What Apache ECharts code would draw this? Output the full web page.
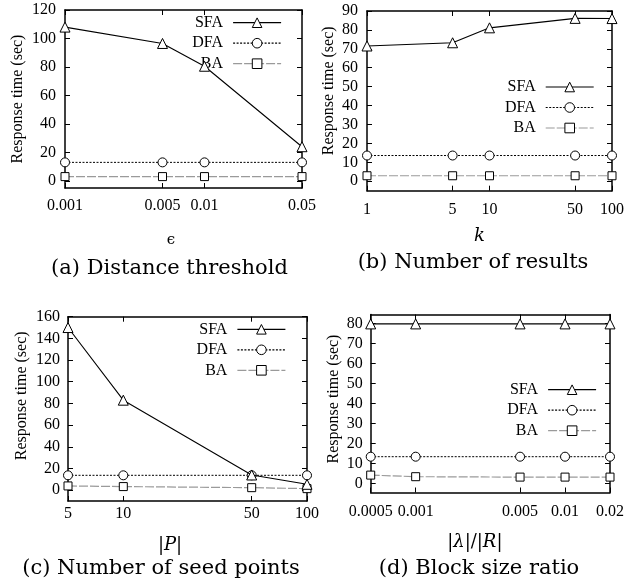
<!DOCTYPE html>
<html><head><meta charset="utf-8">
<script src="https://cdn.jsdelivr.net/npm/echarts@6/dist/echarts.min.js"></script>
<style>html,body{margin:0;padding:0;background:#fff}#c{width:627px;height:587px}</style>
</head><body><div id="c"></div>
<script>
// ---- data ----
const epsValues = [0.001, 0.005, 0.01, 0.05];
const epsTickLabels = ['0.001', '0.005', '0.01', '0.05'];
const sfaEps = [108, 96.5, 80.5, 24];
const dfaEps = [13, 13, 13, 13];
const baEps = [3, 3, 3, 3];

const kValues = [1, 5, 10, 50, 100];
const kTickLabels = ['1', '5', '10', '50', '100'];
const sfaK = [71.5, 73.2, 81.1, 86.1, 86];
const dfaK = [13.6, 13.6, 13.6, 13.6, 13.6];
const baK = [2.9, 2.9, 2.9, 2.9, 2.9];

const pValues = [5, 10, 50, 100];
const pTickLabels = ['5', '10', '50', '100'];
const sfaP = [150, 83, 14, 5.4];
const dfaP = [13.7, 13.7, 13.7, 13.7];
const baP = [3.9, 3.3, 2.3, 1.4];

const rValues = [0.0005, 0.001, 0.005, 0.01, 0.02];
const rTickLabels = ['0.0005', '0.001', '0.005', '0.01', '0.02'];
const sfaR = [79.8, 79.8, 79.8, 79.8, 79.8];
const dfaR = [13.4, 13.4, 13.4, 13.4, 13.4];
const baR = [4.2, 3.4, 3.2, 3.2, 3.2];

const yTicksA = [0, 20, 40, 60, 80, 100, 120];
const yTicksB = [0, 10, 20, 30, 40, 50, 60, 70, 80, 90];
const yTicksC = [0, 20, 40, 60, 80, 100, 120, 140, 160];
const yTicksD = [0, 10, 20, 30, 40, 50, 60, 70, 80];

const seriesNames = ['SFA', 'DFA', 'BA'];
const yName = 'Response time (sec)';
const captions = ['(a) Distance threshold', '(b) Number of results', '(c) Number of seed points', '(d) Block size ratio'];
const xNames = ['{e|ϵ}', '{i|k}', '|{i|P}|', '|{i|λ}|/|{i|R}|'];

// ---- layout ----
const SERIF = '"Liberation Serif", "Times New Roman", serif';
const CAPF = '"DejaVu Serif", serif';
const panels = [
  { grid: {left: 65, top: 10, width: 237, height: 178}, xv: epsValues, xl: epsTickLabels, ymin: -5, ymax: 120, yt: yTicksA,
    data: [sfaEps, dfaEps, baEps], xGap: 45, xPad: [0, 25, 0, 0], yGap: 39, yPad: [0, 0, 0, 0], xMargin: 10, yMargin: 9,
    legend: {right: 345.3, top: 14.7}, cap: {x: 169.5, y: 258} },
  { grid: {left: 367, top: 11, width: 247, height: 179.7}, xv: kValues, xl: kTickLabels, ymin: -5, ymax: 90, yt: yTicksB,
    data: [sfaK, dfaK, baK], xGap: 37, xPad: [0, 20, 0, 0], yGap: 30, yPad: [0, 0, 0, 20], xMargin: 11, yMargin: 9,
    legend: {right: 32.7, top: 79}, cap: {x: 473, y: 252} },
  { grid: {left: 68, top: 316.7, width: 239, height: 184.3}, xv: pValues, xl: pTickLabels, ymin: -10, ymax: 160, yt: yTicksC,
    data: [sfaP, dfaP, baP], xGap: 35, xPad: [0, 35, 0, 0], yGap: 38, yPad: [0, 0, 0, 26], xMargin: 5, yMargin: 8,
    legend: {right: 341, top: 321.3}, cap: {x: 161, y: 558} },
  { grid: {left: 370.7, top: 314.5, width: 246, height: 178}, xv: rValues, xl: rTickLabels, ymin: -4.5, ymax: 84.5, yt: yTicksD,
    data: [sfaR, dfaR, baR], xGap: 41, xPad: [0, 31, 0, 0], yGap: 29, yPad: [0, 0, 0, 9], xMargin: 11, yMargin: 8,
    legend: {right: 30.3, top: 381.7}, cap: {x: 479, y: 558} }
];

const seriesStyles = [
  { symbol: 'triangle', symbolSize: 10, lineStyle: {color: '#000', width: 1.1, type: 'solid'} },
  { symbol: 'circle', symbolSize: 9, lineStyle: {color: '#000', width: 1, type: [2, 1.5]} },
  { symbol: 'rect', symbolSize: 8, lineStyle: {color: '#9a9a9a', width: 1.2, type: [9, 2]} }
];

const frameLine = {show: true, onZero: false, lineStyle: {color: '#000', width: 1.5}};
const tickStyle = {color: '#000', width: 1};
const labelStyle = {color: '#000', fontFamily: SERIF, fontSize: 16};

const option = {
  animation: false,
  backgroundColor: '#fff',
  grid: [], xAxis: [], yAxis: [], series: [], legend: [], title: []
};

panels.forEach((p, i) => {
  option.grid.push(Object.assign({containLabel: false}, p.grid));
  const lookup = v => {
    for (let j = 0; j < p.xv.length; j++) if (Math.abs(p.xv[j] - v) <= Math.abs(v) * 1e-6) return p.xl[j];
    return '';
  };
  const xMin = p.xv[0], xMax = p.xv[p.xv.length - 1];
  option.xAxis.push({
    type: 'log', logBase: 10, gridIndex: i, min: xMin, max: xMax,
    axisLine: frameLine,
    axisTick: {show: true, inside: true, length: 5, customValues: p.xv, lineStyle: tickStyle},
    axisLabel: Object.assign({customValues: p.xv, margin: p.xMargin, formatter: lookup}, labelStyle),
    splitLine: {show: false}, minorTick: {show: false}, minorSplitLine: {show: false},
    name: xNames[i], nameLocation: 'middle', nameGap: p.xGap, nameMoveOverlap: false,
    nameTextStyle: {color: '#000', fontFamily: CAPF, fontSize: 18, padding: p.xPad,
      rich: {i: {fontStyle: 'italic', fontFamily: CAPF, fontSize: 18, color: '#000'},
             e: {fontFamily: CAPF, fontSize: 15, color: '#000'}}}
  });
  option.yAxis.push({
    type: 'value', gridIndex: i, min: p.ymin, max: p.ymax,
    axisLine: frameLine,
    axisTick: {show: true, inside: true, length: 5, customValues: p.yt, lineStyle: tickStyle},
    axisLabel: Object.assign({customValues: p.yt, margin: p.yMargin}, labelStyle),
    splitLine: {show: false},
    name: yName, nameLocation: 'middle', nameRotate: 90, nameGap: p.yGap, nameMoveOverlap: false,
    nameTextStyle: {color: '#000', fontFamily: SERIF, fontSize: 16, padding: p.yPad}
  });
  p.data.forEach((vals, s) => {
    const st = seriesStyles[s];
    option.series.push({
      type: 'line', name: seriesNames[s], xAxisIndex: i, yAxisIndex: i,
      data: p.xv.map((x, j) => [x, vals[j]]),
      symbol: st.symbol, symbolSize: st.symbolSize, showAllSymbol: true,
      lineStyle: st.lineStyle,
      itemStyle: {color: '#fff', borderColor: '#000', borderWidth: 1},
      emphasis: {disabled: true}, clip: false, z: 2 + (2 - s)
    });
  });
  option.legend.push({
    orient: 'vertical', align: 'right', right: p.legend.right, top: p.legend.top, padding: 0,
    itemWidth: 48, itemHeight: 12, itemGap: 4.5, selectedMode: false, data: seriesNames,
    itemStyle: {borderWidth: 1}, lineStyle: {width: 1.2},
    textStyle: {color: '#000', fontFamily: SERIF, fontSize: 16, lineHeight: 12, padding: [0, 5, 0, 0]}
  });
  option.title.push({
    text: captions[i], left: p.cap.x, top: p.cap.y, textAlign: 'center', padding: 0,
    textStyle: {color: '#000', fontFamily: CAPF, fontSize: 21, fontWeight: 'normal'}
  });
});

// mirror axes (top / right) carrying ticks only
panels.forEach((p, i) => {
  option.xAxis.push({
    type: 'log', logBase: 10, gridIndex: i, position: 'top', min: p.xv[0], max: p.xv[p.xv.length - 1],
    axisLine: frameLine,
    axisTick: {show: true, inside: true, length: 5, customValues: p.xv, lineStyle: tickStyle},
    axisLabel: {show: false}, splitLine: {show: false}, minorTick: {show: false}
  });
  option.yAxis.push({
    type: 'value', gridIndex: i, position: 'right', min: p.ymin, max: p.ymax,
    axisLine: frameLine,
    axisTick: {show: true, inside: true, length: 5, customValues: p.yt, lineStyle: tickStyle},
    axisLabel: {show: false}, splitLine: {show: false}
  });
});

const chart = echarts.init(document.getElementById('c'));
chart.setOption(option);
</script>
</body></html>
